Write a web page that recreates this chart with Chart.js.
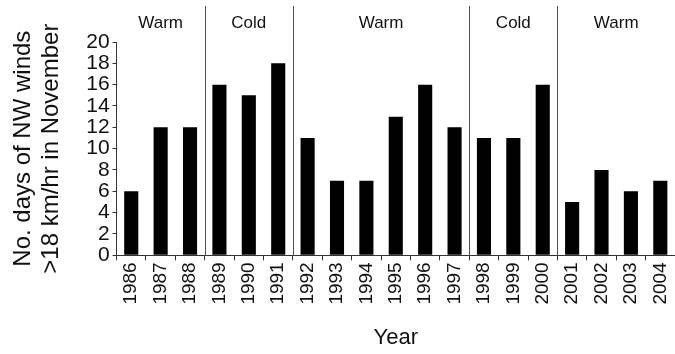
<!DOCTYPE html>
<html>
<head>
<meta charset="utf-8">
<script src="https://cdn.jsdelivr.net/npm/chart.js@4"></script>
<style>
  html, body { margin: 0; padding: 0; background: #fff; }
  #wrap { width: 675px; height: 354px; position: relative; }
</style>
</head>
<body>
<div id="wrap"><canvas id="windChart"></canvas></div>
<script>
const years = ["1986", "1987", "1988", "1989", "1990", "1991", "1992", "1993", "1994", "1995",
               "1996", "1997", "1998", "1999", "2000", "2001", "2002", "2003", "2004"];
const nwDays = [6, 12, 12, 16, 15, 18, 11, 7, 7, 13, 16, 12, 11, 11, 16, 5, 8, 6, 7];
const regimeNames = ["Warm", "Cold", "Warm", "Cold", "Warm"];
const regimeFirstYear = ["1986", "1989", "1992", "1998", "2001"];
const yTicks = [0, 2, 4, 6, 8, 10, 12, 14, 16, 18, 20];

const FONT = "'Liberation Sans', Arial, sans-serif";

// regime separators + Warm/Cold labels above the plot
const regimePlugin = {
    id: "regimes",
    afterDatasetsDraw(chart) {
        const { ctx, chartArea, scales } = chart;
        const x = scales.x;
        const half = (x.getPixelForValue(1) - x.getPixelForValue(0)) / 2;
        ctx.save();
        ctx.strokeStyle = "#555";
        ctx.lineWidth = 1;
        ctx.fillStyle = "#111";
        ctx.font = "17px " + FONT;
        ctx.textAlign = "center";
        ctx.textBaseline = "middle";
        regimeFirstYear.forEach((yr, i) => {
            const start = x.getPixelForValue(years.indexOf(yr)) - half;
            const next = regimeFirstYear[i + 1];
            const end = next ? x.getPixelForValue(years.indexOf(next)) - half : chartArea.right;
            if (i > 0) {
                const px = Math.round(start) + 0.5;
                ctx.beginPath();
                ctx.moveTo(px, 6);
                ctx.lineTo(px, chartArea.bottom);
                ctx.stroke();
            }
            ctx.fillText(regimeNames[i], (start + end) / 2, 23);
        });
        ctx.restore();
    },
};

new Chart(document.getElementById("windChart"), {
    type: "bar",
    data: {
        labels: years,
        datasets: [{
            data: nwDays,
            backgroundColor: "#000",
            borderWidth: 0,
            categoryPercentage: 1,
            barPercentage: 0.48,
        }],
    },
    options: {
        responsive: true,
        maintainAspectRatio: false,
        animation: false,
        layout: { padding: { top: 42, right: 0, left: 10, bottom: 3 } },
        plugins: { legend: { display: false }, tooltip: { enabled: false } },
        scales: {
            x: {
                offset: true,
                // rotated labels fit inside the last category, no extra room needed
                afterFit(scale) { scale.paddingRight = 0; },
                grid: { offset: true, drawOnChartArea: false, tickLength: 5, color: "#333" },
                border: { color: "#333", width: 1 },
                ticks: { color: "#111", font: { family: FONT, size: 19 }, minRotation: 90, maxRotation: 90, padding: 2, autoSkip: false },
                title: { display: true, text: "Year", color: "#111", font: { family: FONT, size: 22 }, padding: { top: 18, bottom: 0 } },
            },
            y: {
                min: 0,
                max: 20,
                afterBuildTicks(axis) { axis.ticks = yTicks.map(v => ({ value: v })); },
                grid: { drawOnChartArea: false, tickLength: 4, color: "#333" },
                border: { color: "#333", width: 1 },
                ticks: { color: "#111", font: { family: FONT, size: 21 }, padding: 3, autoSkip: false },
                title: {
                    display: true,
                    text: ["No. days of NW winds", ">18 km/hr in November"],
                    color: "#111",
                    font: { family: FONT, size: 24, lineHeight: 1.15 },
                    padding: { top: 0, bottom: 18 },
                },
            },
        },
    },
    plugins: [regimePlugin],
});
</script>
</body>
</html>
